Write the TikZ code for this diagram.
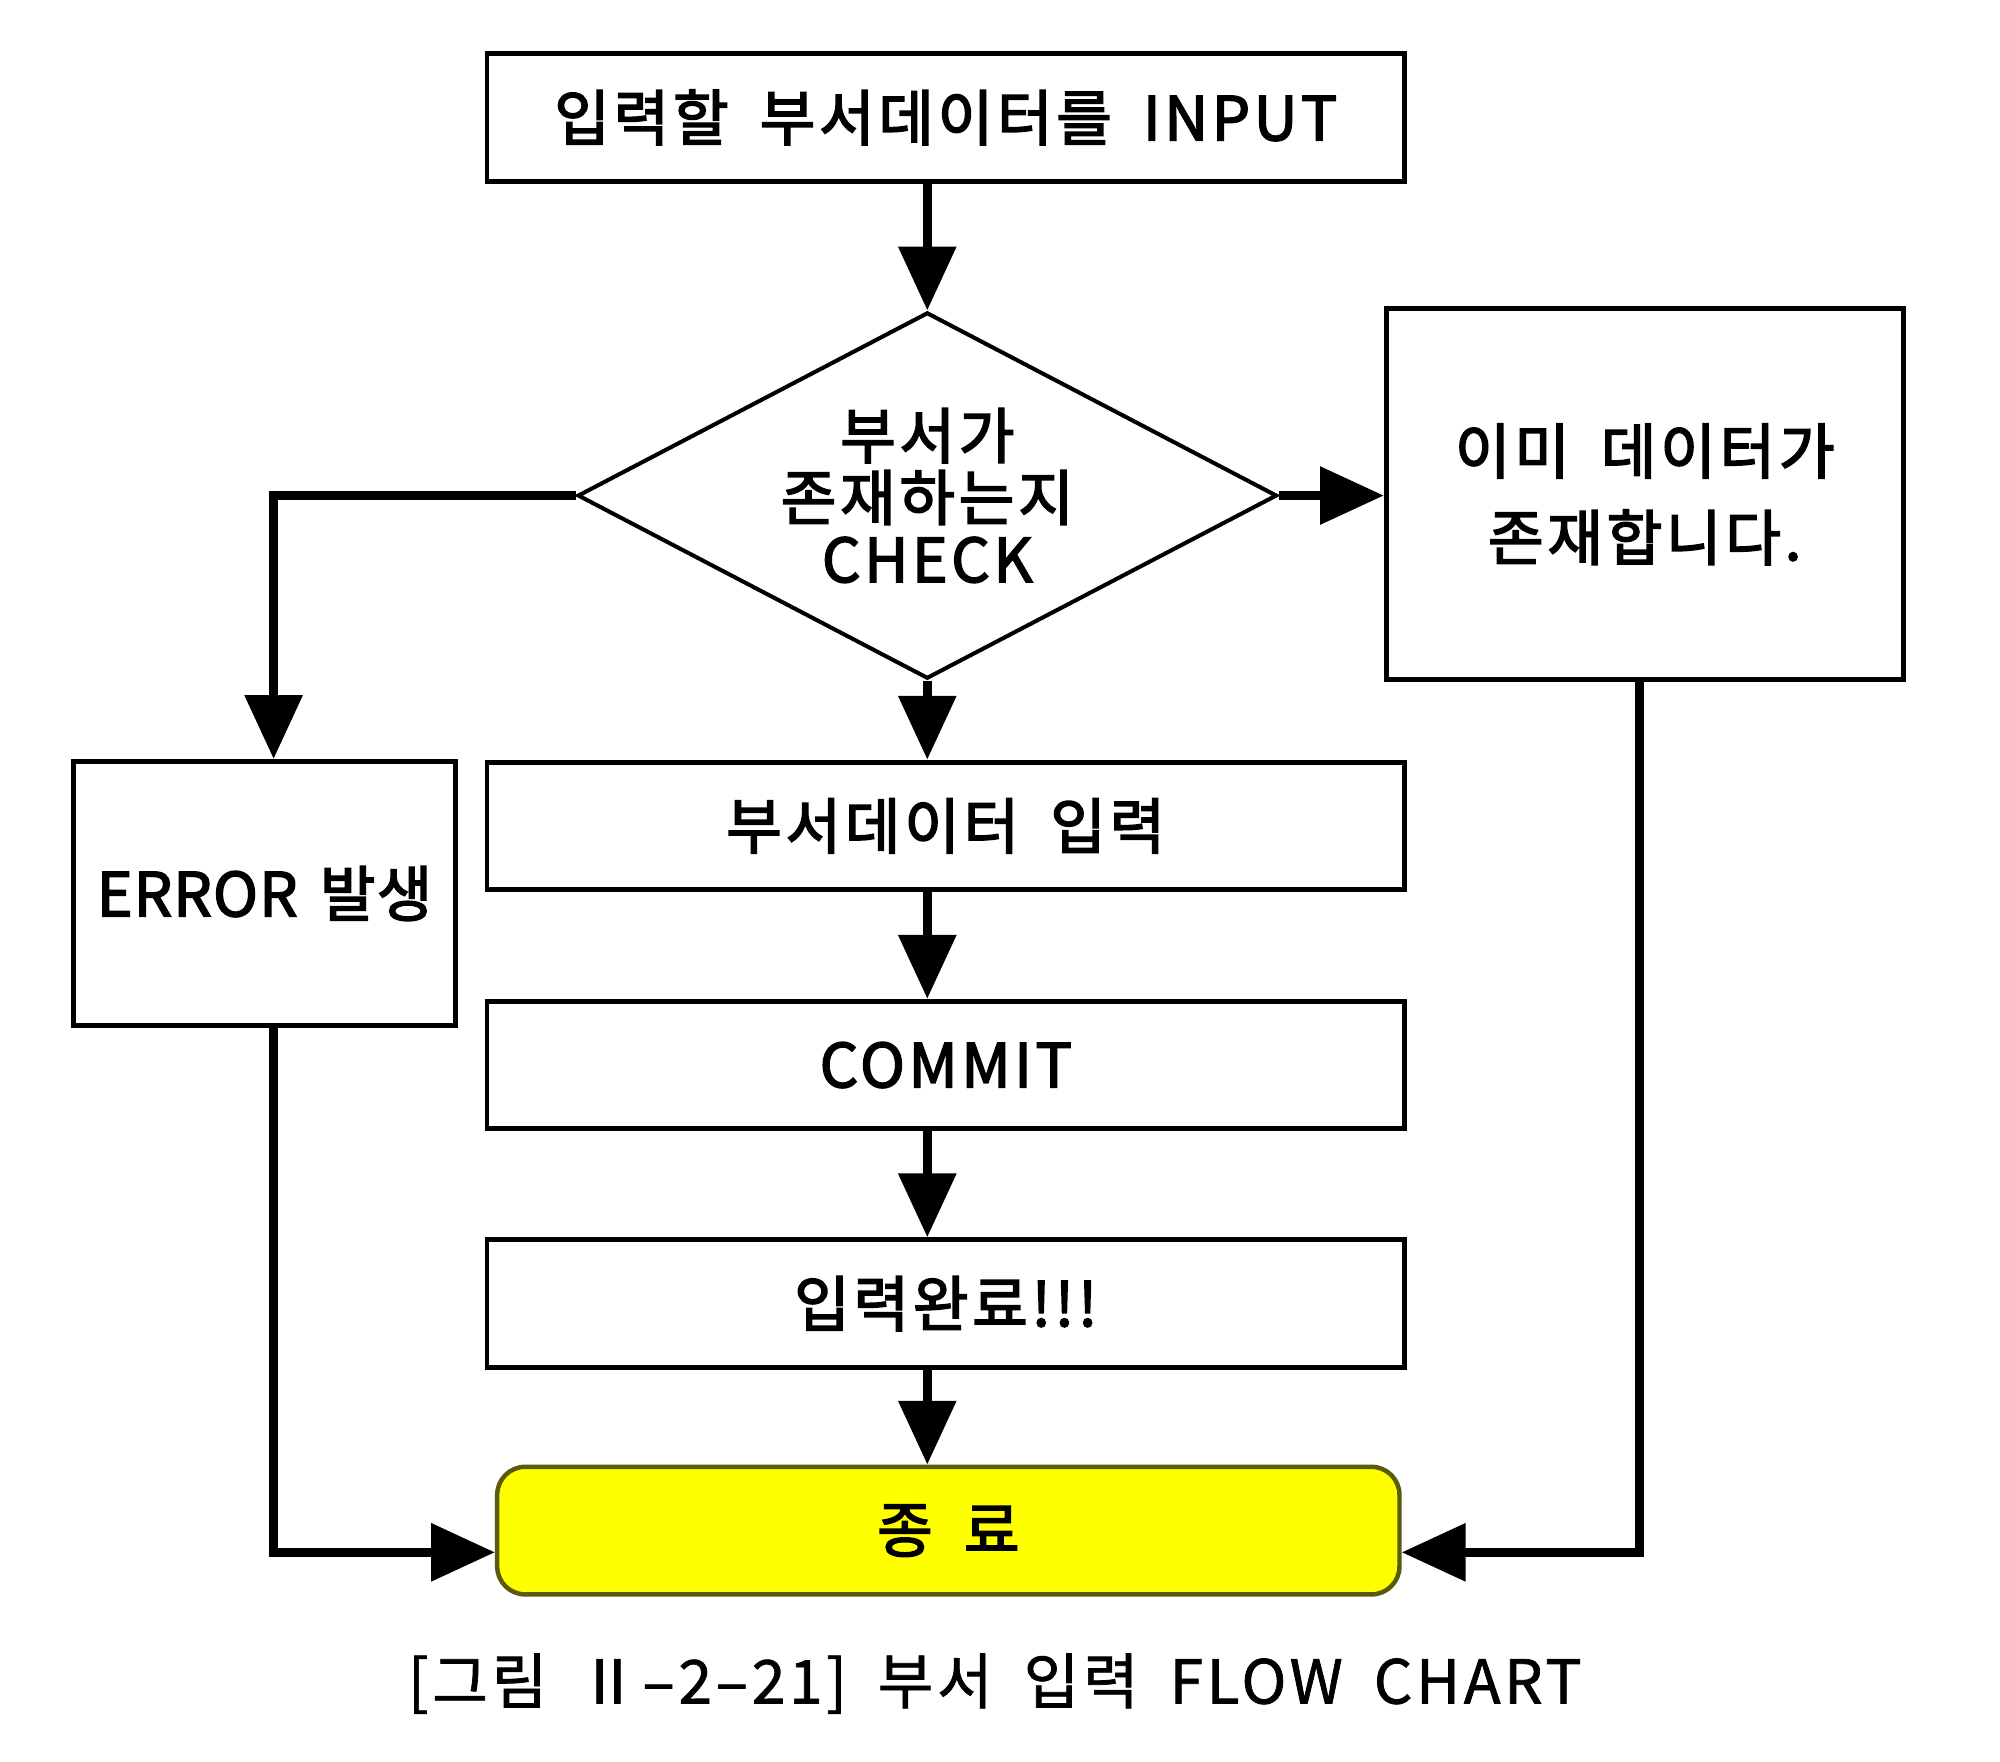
\documentclass[tikz,border=0pt]{standalone}
\usepackage{fontspec}
\setmainfont{Noto Sans CJK KR}[LetterSpace=6, WordSpace=1.8, FakeBold=1.2]
\newfontfamily\medfont{Noto Sans CJK KR}[LetterSpace=6, WordSpace=1.8, FakeBold=2.6]
\newfontfamily\medfonttight{Noto Sans CJK KR}[LetterSpace=2, WordSpace=1.5, FakeBold=2.6]
\usetikzlibrary{shapes.geometric,arrows.meta}
\definecolor{endfill}{RGB}{255,255,0}
\definecolor{endline}{RGB}{90,90,10}
\tikzset{
  txt/.style={font=\medfont\fontsize{13.5}{16}\selectfont},
  box/.style={draw=black, line width=1.1pt, rectangle, minimum width=7.19cm, minimum height=1.0cm, inner sep=0pt, align=center, txt},
  arr/.style={line width=2.0pt, -{Triangle[length=0.5cm, width=0.44cm]}},
}
\begin{document}
\begin{tikzpicture}[x=0.01cm, y=-0.01cm]
\useasboundingbox (0,0) rectangle (1568,1381);
\node[box] (top) at (741.5,92) {입력할 부서데이터를 INPUT};
\node[draw=black, line width=0.9pt, diamond, aspect=1.91, inner sep=0pt, minimum width=5.48cm, minimum height=2.87cm, align=center, font=\medfont\fontsize{13.5}{13.8}\selectfont] (chk) at (727,388.5) {부서가\\존재하는지\\CHECK};
\node[box, minimum width=4.05cm, minimum height=2.91cm, font=\medfont\fontsize{13.5}{19.3}\selectfont] (exist) at (1289.5,387.5) {이미 데이터가\\존재합니다.};
\node[box, minimum width=2.99cm, minimum height=2.07cm, font=\medfonttight\fontsize{13.5}{16}\selectfont] (err) at (207.5,700.5) {ERROR 발생};
\node[box] (ins) at (741.5,647.5) {부서데이터 입력};
\node[box] (commit) at (741.5,835) {COMMIT};
\node[box] (done) at (741.5,1022) {입력완료!!!};
\node[draw=endline, fill=endfill, line width=1pt, rounded corners=0.22cm, minimum width=7.07cm, minimum height=1.0cm, inner sep=0pt, txt] (end) at (743.5,1200) {종 료};
\node[font=\fontsize{13.5}{16}\selectfont] (cap) at (780,1320) {[그림 Ⅱ–2–21] 부서 입력 FLOW CHART};

\draw[arr] (chk.north |- top.south) -- (chk.north);
\draw[arr] (chk.east) -- (exist.west |- chk.east);
\draw[arr] (chk.west) -- ([xshift=0.07cm]chk.west -| err.north) -- ([xshift=0.07cm]err.north);
\draw[arr] (chk.south) -- (chk.south |- ins.north);
\draw[arr] (ins.south -| chk.south) -- (commit.north -| chk.south);
\draw[arr] (commit.south -| chk.south) -- (done.north -| chk.south);
\draw[arr] (done.south -| chk.south) -- (end.north -| chk.south);
\draw[arr] ([xshift=0.07cm]err.south) -- ([xshift=0.07cm, yshift=-0.17cm]err.south |- end.west) -- ([yshift=-0.17cm]end.west);
\draw[arr] ([xshift=-0.04cm]exist.south) -- ([xshift=-0.04cm, yshift=-0.17cm]exist.south |- end.east) -- ([yshift=-0.17cm]end.east);
\end{tikzpicture}
\end{document}
